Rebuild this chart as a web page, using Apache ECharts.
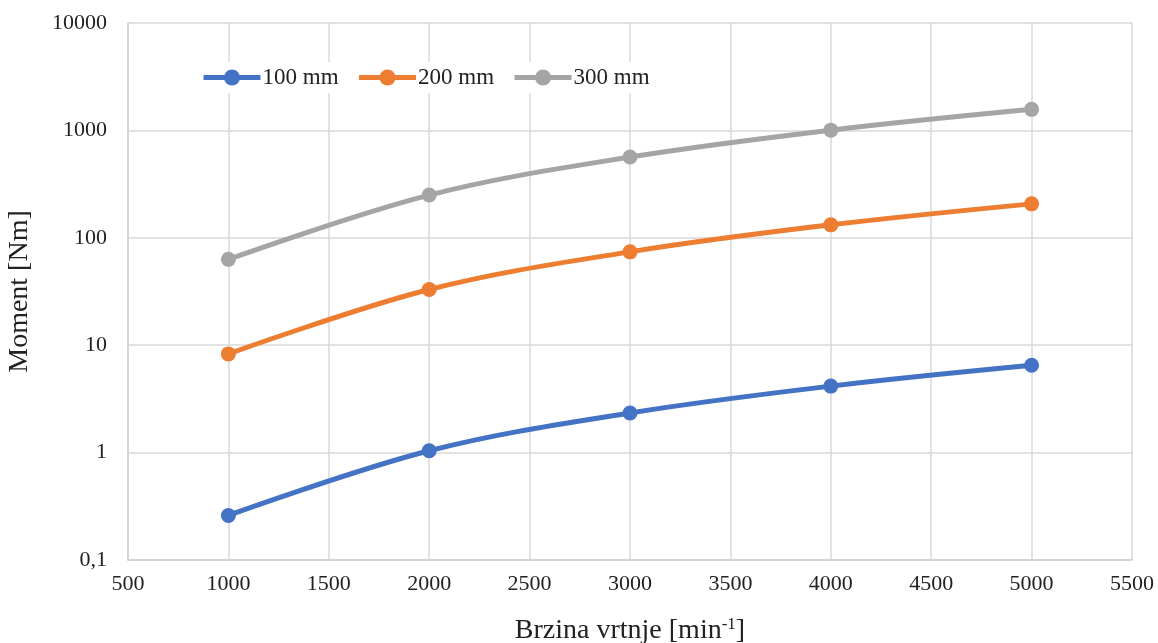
<!DOCTYPE html>
<html><head><meta charset="utf-8">
<script src="https://cdn.jsdelivr.net/npm/echarts@6/dist/echarts.min.js"></script>
<style>html,body{margin:0;padding:0;background:#fff}#c{width:1158px;height:643px}</style>
</head><body><div id="c"></div>
<script>
const speeds = [1000, 2000, 3000, 4000, 5000];
const seriesNames = ['100 mm', '200 mm', '300 mm'];
const m100 = [0.26, 1.04, 2.34, 4.16, 6.5];
const m200 = [8.3, 33, 74, 132, 207];
const m300 = [63, 250, 565, 1005, 1570];
const colors = ['#4472C4', '#ED7D31', '#A5A5A5'];
const font = 'Liberation Serif';

const chart = echarts.init(document.getElementById('c'));
const mk = (name, vals, color) => ({
  name, type: 'line', smooth: 0.35,
  data: speeds.map((s, i) => [s, vals[i]]),
  symbol: 'circle', symbolSize: 15,
  lineStyle: { width: 5, color },
  itemStyle: { color },
  z: 3
});
chart.setOption({
  animation: false,
  backgroundColor: '#fff',
  grid: { left: 128, right: 26, top: 23, bottom: 83, outerBoundsMode: 'none', containLabel: false },
  legend: {
    left: 195, top: 62,
    itemWidth: 57, itemHeight: 20, itemGap: 18,
    backgroundColor: '#fff', padding: [4, 6],
    lineStyle: { width: 5 },
    textStyle: { fontFamily: font, fontSize: 23, color: '#222', padding: [0, 0, 0, -3] },
    data: seriesNames
  },
  xAxis: {
    type: 'value', min: 500, max: 5500, interval: 500,
    name: '{a|Brzina vrtnje [min}{s|-1}{a|]}',
    nameLocation: 'middle', nameGap: 56,
    nameTextStyle: { rich: {
      a: { fontFamily: font, fontSize: 28, color: '#222' },
      s: { fontFamily: font, fontSize: 17, color: '#222', verticalAlign: 'top', padding: [0, 0, 12, 0] }
    } },
    axisLine: { lineStyle: { color: '#d0d0d0', width: 1.5 } },
    axisTick: { show: false },
    splitLine: { lineStyle: { color: '#d9d9d9', width: 1.5 } },
    axisLabel: { fontFamily: font, fontSize: 22, color: '#222', margin: 13,
      formatter: v => String(v) }
  },
  yAxis: {
    type: 'log', logBase: 10, min: 0.1, max: 10000,
    name: 'Moment [Nm]', nameLocation: 'middle', nameGap: 94,
    nameTextStyle: { fontFamily: font, fontSize: 28, color: '#222' },
    axisLine: { show: true, lineStyle: { color: '#d0d0d0', width: 1.5 } },
    axisTick: { show: false },
    splitLine: { lineStyle: { color: '#d9d9d9', width: 1.5 } },
    axisLabel: { fontFamily: font, fontSize: 22, color: '#222', margin: 21,
      formatter: v => String(v).replace('.', ',') }
  },
  series: [mk(seriesNames[0], m100, colors[0]), mk(seriesNames[1], m200, colors[1]), mk(seriesNames[2], m300, colors[2])]
});
</script></body></html>
